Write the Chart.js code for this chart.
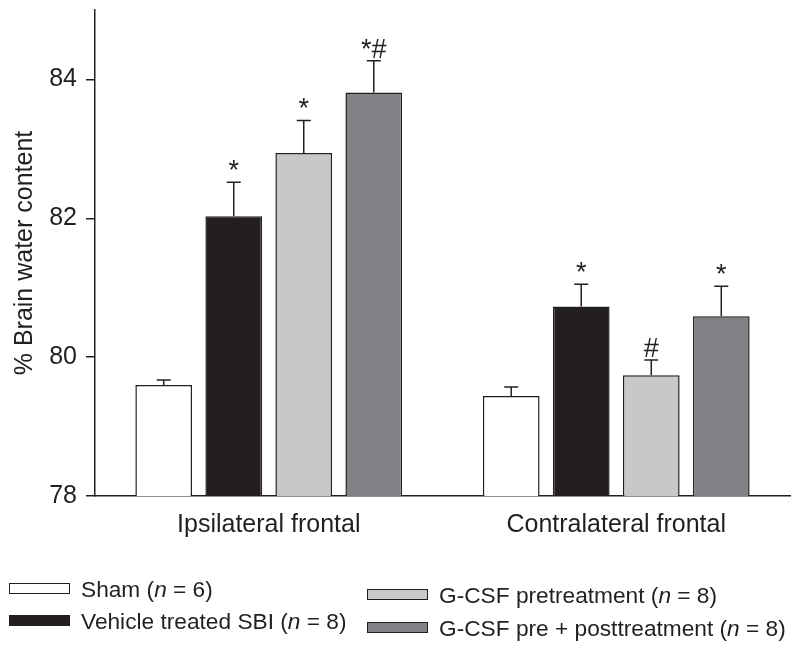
<!DOCTYPE html>
<html>
<head>
<meta charset="utf-8">
<script src="https://cdn.jsdelivr.net/npm/chart.js@4"></script>
<style>
  body { margin: 0; background: #fff; }
  #wrap { position: relative; width: 800px; height: 648px; }
  #chart { position: absolute; left: 0; top: 0; }
  .leg { position: absolute; font-family: "Liberation Sans", Arial, sans-serif; font-size: 22.7px; color: #231f20; white-space: nowrap; }
  .leg .box { position: absolute; left: 0; width: 59px; height: 9px; border: 1.5px solid #231f20; }
  .leg .txt { position: absolute; left: 72px; line-height: 24px; }
</style>
</head>
<body>
<div id="wrap">
  <canvas id="chart" width="800" height="648"></canvas>
</div>
<script>
  const regions = ["Ipsilateral frontal", "Contralateral frontal"];
  const groupNames = ["Sham", "Vehicle treated SBI", "G-CSF pretreatment", "G-CSF pre + posttreatment"];
  const groupN = [6, 8, 8, 8];

  // mean % brain water content, per group: [ipsilateral, contralateral]
  const shamVals = [79.60, 79.44];
  const vehicleVals = [82.03, 80.73];
  const preVals = [82.94, 79.74];
  const prePostVals = [83.81, 80.59];

  // SEM (drawn upward only)
  const shamErr = [0.07, 0.13];
  const vehicleErr = [0.49, 0.32];
  const preErr = [0.47, 0.22];
  const prePostErr = [0.46, 0.43];

  // significance marks
  const shamMarks = ["", ""];
  const vehicleMarks = ["*", "*"];
  const preMarks = ["*", "#"];
  const prePostMarks = ["*#", "*"];

  const yTicks = [78, 80, 82, 84];

  const fills = ["#ffffff", "#231f20", "#c6c8ca", "#808285"];
  const ink = "#231f20";
  const fontFamily = '"Liberation Sans", Arial, sans-serif';

  const valueSets = [shamVals, vehicleVals, preVals, prePostVals];
  const errSets = [shamErr, vehicleErr, preErr, prePostErr];
  const markSets = [shamMarks, vehicleMarks, preMarks, prePostMarks];

  const datasets = groupNames.map((name, i) => ({
    label: name,
    data: valueSets[i],
    errors: errSets[i],
    marks: markSets[i],
    backgroundColor: fills[i],
    borderColor: ink,
    borderWidth: 1.5,
    categoryPercentage: 0.806,
    barPercentage: 0.81,
  }));

  const errorBars = {
    id: "errorBars",
    afterDatasetsDraw(chart) {
      const ctx = chart.ctx;
      const yScale = chart.scales.y;
      ctx.save();
      ctx.strokeStyle = ink;
      ctx.fillStyle = ink;
      ctx.lineWidth = 1.5;
      ctx.font = "27px " + fontFamily;
      ctx.textAlign = "center";
      ctx.textBaseline = "alphabetic";
      chart.data.datasets.forEach((ds, di) => {
        const meta = chart.getDatasetMeta(di);
        meta.data.forEach((bar, j) => {
          const top = yScale.getPixelForValue(ds.data[j] + ds.errors[j]);
          ctx.beginPath();
          ctx.moveTo(bar.x, bar.y);
          ctx.lineTo(bar.x, top);
          ctx.moveTo(bar.x - 7, top);
          ctx.lineTo(bar.x + 7, top);
          ctx.stroke();
          if (ds.marks[j]) {
            ctx.fillText(ds.marks[j], bar.x, top - 3);
          }
        });
      });
      ctx.restore();
    },
  };

  new Chart(document.getElementById("chart"), {
    type: "bar",
    data: { labels: regions, datasets: datasets },
    plugins: [errorBars],
    options: {
      responsive: false,
      animation: false,
      layout: { padding: { top: 10, right: 10, bottom: 103, left: 0 } },
      plugins: { legend: { display: false }, tooltip: { enabled: false } },
      scales: {
        x: {
          grid: { display: true, drawOnChartArea: false, drawTicks: false },
          border: { display: true, color: ink, width: 1.5 },
          ticks: { color: ink, padding: 14, font: { family: fontFamily, size: 25 } },
          afterFit(scale) {
            scale.height = 49;
            scale.paddingLeft = 0;
            scale.paddingRight = 0;
          },
        },
        y: {
          min: 78,
          max: 85,
          grid: { display: true, drawOnChartArea: false, drawTicks: true, tickLength: 9, color: ink, lineWidth: 1.5 },
          border: { display: true, color: ink, width: 1.5 },
          afterBuildTicks(scale) {
            scale.ticks = yTicks.map((v) => ({ value: v }));
          },
          ticks: { color: ink, padding: 9, font: { family: fontFamily, size: 25 } },
          title: {
            display: true,
            text: "% Brain water content",
            color: ink,
            padding: { top: 10, bottom: 0 },
            font: { family: fontFamily, size: 25 },
          },
          afterFit(scale) {
            scale.width = 95;
            scale.paddingTop = 0;
            scale.paddingBottom = 0;
          },
        },
      },
    },
  });

  // legend, laid out in two staggered columns like the original figure
  const legendPos = [
    { left: 9, top: 583 },
    { left: 9, top: 615 },
    { left: 367, top: 589 },
    { left: 367, top: 622 },
  ];
  const wrap = document.getElementById("wrap");
  groupNames.forEach((name, i) => {
    const item = document.createElement("div");
    item.className = "leg";
    item.style.left = legendPos[i].left + "px";
    item.style.top = legendPos[i].top + "px";
    const box = document.createElement("div");
    box.className = "box";
    box.style.background = fills[i];
    const txt = document.createElement("div");
    txt.className = "txt";
    txt.style.top = "-6px";
    txt.innerHTML = name + " (<i>n</i> = " + groupN[i] + ")";
    item.appendChild(box);
    item.appendChild(txt);
    wrap.appendChild(item);
  });
</script>
</body>
</html>
